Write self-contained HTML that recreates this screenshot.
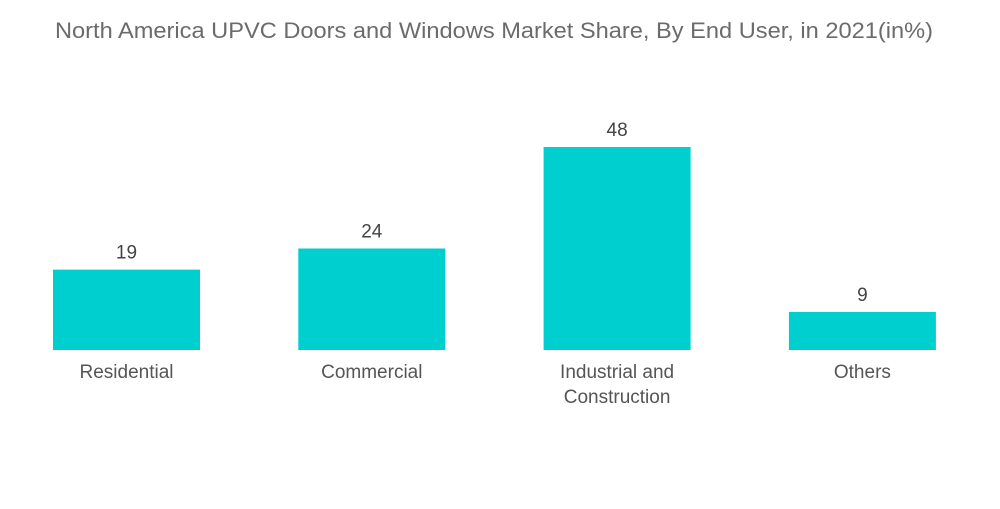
<!DOCTYPE html>
<html>
<head>
<meta charset="utf-8">
<style>
  html, body { margin: 0; padding: 0; background: #ffffff; }
  body { width: 1000px; height: 504px; overflow: hidden; font-family: "Liberation Sans", "DejaVu Sans", sans-serif; }
  svg text { font-family: "Liberation Sans", "DejaVu Sans", sans-serif; }
</style>
</head>
<body>
<svg id="chart" width="1000" height="504" xmlns="http://www.w3.org/2000/svg">
  <text x="494" y="38" text-anchor="middle" font-size="22" fill="#6b6b6b" textLength="878" lengthAdjust="spacingAndGlyphs">North America  UPVC Doors and Windows Market Share, By End User, in 2021(in%)</text>
  <g id="bars"></g>
</svg>
<script>
const categories = [["Residential"], ["Commercial"], ["Industrial and", "Construction"], ["Others"]];
const values = [19, 24, 48, 9];

const baseY = 350;
const pxPerUnit = 203 / 48;
const firstX = 53, step = 245.3, barW = 147;
function yScale(v) { return baseY - v * pxPerUnit; }
function xScale(i) { return firstX + i * step; }

const ns = "http://www.w3.org/2000/svg";
const g = document.getElementById("bars");
values.forEach((v, i) => {
  const x = xScale(i);
  const rect = document.createElementNS(ns, "rect");
  
  
  rect.setAttribute("x", x);
  rect.setAttribute("y", yScale(v));
  rect.setAttribute("width", barW);
  rect.setAttribute("height", baseY - yScale(v));
  rect.setAttribute("fill", "#00cfcf");
  g.appendChild(rect);

  const vl = document.createElementNS(ns, "text");
  
  
  vl.setAttribute("x", x + barW / 2);
  vl.setAttribute("y", yScale(v) - 11);
  vl.setAttribute("text-anchor", "middle");
  vl.setAttribute("font-size", "19");
  vl.setAttribute("fill", "#444");
  vl.textContent = v;
  g.appendChild(vl);

  categories[i].forEach((line, j) => {
    const cl = document.createElementNS(ns, "text");
    
    
    cl.setAttribute("x", x + barW / 2);
    cl.setAttribute("y", 378 + j * 25);
    cl.setAttribute("text-anchor", "middle");
    cl.setAttribute("font-size", "19");
    cl.setAttribute("fill", "#555");
    cl.textContent = line;
    g.appendChild(cl);
  });
});
</script>
</body>
</html>
